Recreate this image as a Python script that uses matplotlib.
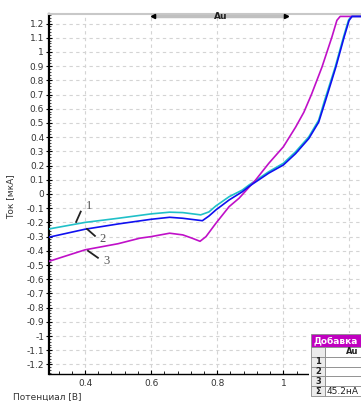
import matplotlib
matplotlib.use("Agg")
import matplotlib.pyplot as plt
from matplotlib.patches import Rectangle
from matplotlib.ticker import MultipleLocator, FuncFormatter
import matplotlib.transforms as mtransforms

plt.rcParams['axes.unicode_minus'] = False
plt.rcParams['font.family'] = ['DejaVu Sans']

# ---- data ----
x1 = [0.291, 0.40, 0.50, 0.60, 0.656, 0.696, 0.75, 0.775, 0.796, 0.836, 0.876, 0.896,
      0.956, 1.0, 1.037, 1.077, 1.107, 1.125, 1.157, 1.182, 1.197, 1.205, 1.235]
y1 = [-0.246, -0.200, -0.171, -0.140, -0.128, -0.131, -0.147, -0.126, -0.084, -0.019, 0.028, 0.063,
      0.157, 0.216, 0.297, 0.402, 0.520, 0.660, 0.894, 1.105, 1.222, 1.250, 1.250]

x2 = [0.291, 0.40, 0.50, 0.60, 0.656, 0.696, 0.755, 0.775, 0.796, 0.836, 0.876, 0.896,
      0.956, 1.0, 1.037, 1.077, 1.107, 1.128, 1.159, 1.184, 1.199, 1.208, 1.235]
y2 = [-0.304, -0.248, -0.211, -0.178, -0.164, -0.171, -0.188, -0.155, -0.112, -0.042, 0.016, 0.053,
      0.147, 0.204, 0.284, 0.390, 0.506, 0.660, 0.894, 1.105, 1.222, 1.250, 1.250]

x3 = [0.291, 0.40, 0.50, 0.566, 0.60, 0.656, 0.696, 0.725, 0.748, 0.766, 0.796, 0.836, 0.866,
      0.916, 0.956, 1.0, 1.037, 1.062, 1.085, 1.117, 1.147, 1.162, 1.172, 1.235]
y3 = [-0.474, -0.393, -0.350, -0.311, -0.300, -0.276, -0.288, -0.312, -0.333, -0.300, -0.206, -0.089, -0.030,
      0.098, 0.216, 0.332, 0.470, 0.575, 0.700, 0.894, 1.105, 1.222, 1.250, 1.250]

xticks = [0.4, 0.6, 0.8, 1.0, 1.2]
xtick_labels = ["0.4", "0.6", "0.8", "1", ""]
curve_labels = ["1", "2", "3"]
region_label = "Au"
table_title = "Добавка"
table_rows = ["1", "2", "3", "Σ"]
table_sum = "45.2нА"

W, H = 361, 401
fig = plt.figure(figsize=(W / 100, H / 100), dpi=100)
fig.patch.set_facecolor('white')

ax_l, ax_t, ax_b = 49, 14, 373.7
ax = fig.add_axes([ax_l / W, (H - ax_b) / H, 1 - ax_l / W, (ax_b - ax_t) / H])
ax.set_xlim(0.291, 1.235)
ax.set_ylim(-1.265, 1.267)

ax.plot(x1, y1, color='#20c0c8', lw=1.2, zorder=3)
ax.plot(x2, y2, color='#1010f0', lw=1.2, zorder=4)
ax.plot(x3, y3, color='#c010c8', lw=1.2, zorder=3)

# grid and ticks
ax.set_xticks(xticks)
ax.set_xticklabels(xtick_labels)
ax.xaxis.set_minor_locator(MultipleLocator(0.04))
ax.yaxis.set_major_locator(MultipleLocator(0.1))
ax.yaxis.set_minor_locator(MultipleLocator(0.02))
ax.yaxis.set_major_formatter(FuncFormatter(lambda v, p: ("%g" % round(v, 2)) if abs(v) > 1e-9 else "0"))
ax.grid(True, which='major', color='#d4d4d4', lw=0.8, ls=(0, (3, 3)))
ax.tick_params(axis='y', which='major', direction='inout', length=4, width=0.8,
               labelsize=6.5, labelcolor='#333333', pad=1.5)
ax.tick_params(axis='y', which='minor', direction='in', length=1.5, width=0.5)
ax.tick_params(axis='x', which='major', direction='in', length=3, width=0.8,
               labelsize=6.5, labelcolor='#333333', pad=4)
ax.tick_params(axis='x', which='minor', direction='in', length=2, width=0.6)

ax.spines['right'].set_visible(False)
ax.spines['left'].set_linewidth(1.6)
ax.spines['bottom'].set_linewidth(1.0)
ax.spines['top'].set_color('#c8c8c8')
ax.spines['top'].set_linewidth(1.5)

# region bar
trans = mtransforms.blended_transform_factory(ax.transData, ax.transAxes)
yb = 0.994
ax.plot([0.607, 1.008], [yb, yb], color='#c0c0c0', lw=2.5, transform=trans, clip_on=False, zorder=5)
ax.plot([0.607], [yb], marker='<', color='black', ms=3, transform=trans, clip_on=False, zorder=6)
ax.plot([1.008], [yb], marker='>', color='black', ms=3, transform=trans, clip_on=False, zorder=6)
ax.text(0.812, yb, region_label, transform=trans, ha='center', va='center', fontsize=6.5,
        fontweight='bold', color='#222222', zorder=7)

# curve labels
lab_pos = [(0.402, -0.085), (0.443, -0.32), (0.456, -0.47)]
lead = [((0.373, -0.197), (0.387, -0.124)), ((0.406, -0.246), (0.430, -0.295)),
        ((0.409, -0.400), (0.439, -0.449))]
for lbl, (tx, ty), ((ax0, ay0), (ax1_, ay1_)) in zip(curve_labels, lab_pos, lead):
    ax.plot([ax0, ax1_], [ay0, ay1_], color='#222222', lw=1.3, zorder=5)
    ax.text(tx, ty, lbl, fontsize=9, family='Liberation Serif', color='#555555',
            ha='left', va='center', zorder=5)

# axis labels
fig.text(11 / W, 1 - 197 / H, 'Ток [мкА]', rotation=90, ha='center', va='center',
         fontsize=6.5, color='#333333')
fig.text(13 / W, 1 - 397 / H, 'Потенциал [В]', ha='left', va='center', fontsize=6.5, color='#333333')

# table
def rect(x0, y0, x1_, y1_, fc, ec='#8a8a8a', lw=0.6, z=20):
    fig.add_artist(Rectangle((x0 / W, 1 - y1_ / H), (x1_ - x0) / W, (y1_ - y0) / H,
                             transform=fig.transFigure, facecolor=fc, edgecolor=ec, lw=lw, zorder=z))

rect(309, 333, 362, 402, 'white', ec='none', z=19)
rect(311, 334, 362, 347, '#c000c0')
fig.text(313.5 / W, 1 - 341 / H, table_title, ha='left', va='center', fontsize=6.5,
         fontweight='bold', color='white', zorder=25)
rows_y = [347, 357, 366.5, 376, 386, 396]
for i in range(5):
    rect(311, rows_y[i], 325, rows_y[i + 1], '#ececec')
    rect(325, rows_y[i], 362, rows_y[i + 1], 'white')
fig.text(352 / W, 1 - 352 / H, region_label, ha='center', va='center', fontsize=6,
         fontweight='bold', color='#222222', zorder=25)
for i, r in enumerate(table_rows):
    yc = (rows_y[i + 1] + rows_y[i + 2]) / 2
    fig.text(318 / W, 1 - yc / H, r, ha='center', va='center', fontsize=6,
             fontweight='bold', color='#222222', zorder=25)
fig.text(326.5 / W, 1 - 391 / H, table_sum, ha='left', va='center', fontsize=6.5,
         color='#222222', zorder=25)

fig.savefig('out.png', dpi=100)
